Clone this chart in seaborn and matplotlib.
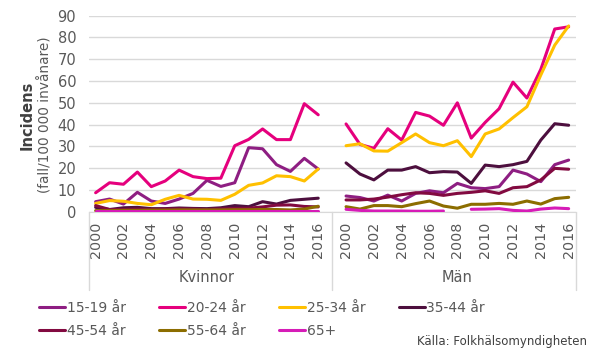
import numpy as np
import pandas as pd
import matplotlib
matplotlib.use("Agg")
import matplotlib.pyplot as plt
import matplotlib.transforms as mtransforms
from matplotlib.lines import Line2D
import seaborn as sns

# --- data ---
years = list(range(2000, 2017))
groups = ["Kvinnor", "Män"]
series = ["15-19 år", "20-24 år", "25-34 år", "35-44 år", "45-54 år", "55-64 år", "65+"]

kvinnor_15_19 = [4.6, 5.8, 3.5, 8.9, 4.9, 3.8, 5.8, 8.4, 14.4, 11.6, 13.3, 29.4, 28.9, 21.6, 18.5, 24.5, 19.6]
kvinnor_20_24 = [8.7, 13.3, 12.6, 18.2, 11.5, 14.1, 19.1, 16.1, 15.2, 15.4, 30.3, 33.2, 38.0, 33.1, 33.1, 49.6, 44.5]
kvinnor_25_34 = [3.8, 5.1, 4.8, 3.8, 3.2, 5.7, 7.5, 5.8, 5.7, 5.2, 8.0, 12.1, 13.2, 16.5, 16.1, 14.1, 19.6]
kvinnor_35_44 = [2.0, 1.0, 1.8, 2.0, 1.4, 1.4, 1.7, 1.5, 1.4, 1.8, 2.8, 2.3, 4.6, 3.5, 5.2, 5.7, 6.2]
kvinnor_45_54 = [2.8, 1.0, 1.0, 1.2, 1.0, 1.2, 1.3, 1.2, 1.0, 1.3, 1.5, 1.6, 2.2, 3.0, 3.1, 2.4, 2.2]
kvinnor_55_64 = [0.5, 0.5, 0.6, 0.6, 0.7, 0.7, 0.8, 0.8, 0.8, 0.8, 0.9, 0.9, 1.0, 1.0, 0.8, 1.2, 2.5]
kvinnor_65 = [0.2, 0.2, 0.2, 0.2, 0.2, 0.2, 0.2, 0.2, 0.2, 0.2, 0.2, 0.2, 0.2, 0.2, 0.2, 0.2, 0.2]

man_15_19 = [7.2, 6.5, 4.9, 7.6, 4.9, 8.4, 9.6, 8.7, 13.0, 11.0, 10.6, 11.5, 19.1, 17.3, 13.8, 21.6, 23.7]
man_20_24 = [40.3, 30.9, 29.1, 38.1, 32.9, 45.6, 43.9, 39.7, 50.0, 33.8, 41.0, 47.3, 59.5, 52.2, 65.4, 83.9, 84.9]
man_25_34 = [30.3, 31.2, 27.9, 27.8, 31.7, 35.7, 31.7, 30.3, 32.6, 25.3, 35.7, 38.0, 43.2, 48.2, 62.8, 76.5, 85.3]
man_35_44 = [22.4, 17.3, 14.6, 19.1, 19.1, 20.7, 17.9, 18.4, 18.2, 13.0, 21.4, 20.7, 21.6, 23.1, 32.9, 40.4, 39.7]
man_45_54 = [5.4, 5.4, 5.8, 6.7, 7.8, 8.7, 8.4, 7.5, 8.4, 8.9, 9.6, 8.4, 11.0, 11.5, 14.6, 19.9, 19.5]
man_55_64 = [2.3, 1.2, 2.8, 2.8, 2.3, 3.7, 4.9, 2.6, 1.6, 3.4, 3.4, 3.8, 3.4, 4.9, 3.5, 6.0, 6.6]
man_65 = [1.1, 0.6, 0.3, 0.3, 0.3, 0.2, 0.2, 0.3, np.nan, 1.1, 1.2, 1.4, 0.6, 0.3, 1.2, 1.7, 1.4]

colors = ["#8E1E82", "#E5007D", "#FFC000", "#4D0F3E", "#820A40", "#8C6D00", "#D61CB7"]

kvinnor = [kvinnor_15_19, kvinnor_20_24, kvinnor_25_34, kvinnor_35_44, kvinnor_45_54, kvinnor_55_64, kvinnor_65]
man = [man_15_19, man_20_24, man_25_34, man_35_44, man_45_54, man_55_64, man_65]

# long table; Män placed after a gap of one empty category
rows = []
for gi, (g, data) in enumerate(zip(groups, [kvinnor, man])):
    offset = gi * (len(years) + 1)
    for s, vals in zip(series, data):
        seg = 0
        for i, v in enumerate(vals):
            if np.isnan(v):
                seg += 1
                continue
            rows.append({"pos": offset + i, "value": v, "serie": s, "unit": f"{g}-{s}-{seg}"})
df = pd.DataFrame(rows)

sns.set_style("white")
plt.rcParams["font.family"] = ["DejaVu Sans"]
grey = "#595959"

fig = plt.figure(figsize=(5.9, 3.54), dpi=100)
ax = fig.add_axes([0.1503, 0.402, 0.8253, 0.5536])

sns.lineplot(data=df, x="pos", y="value", hue="serie", units="unit", estimator=None,
             palette=dict(zip(series, colors)), hue_order=series, linewidth=2.2,
             legend=False, ax=ax, zorder=3)

ax.set_xlim(-0.5, 34.5)
ax.set_ylim(0, 90)
ax.set_yticks(range(0, 91, 10))
ax.tick_params(axis="y", labelsize=10.5, colors=grey, length=0, pad=9)
ax.grid(axis="y", color="#D9D9D9", linewidth=1)
ax.set_axisbelow(True)
for sp in ["top", "right", "left"]:
    ax.spines[sp].set_visible(False)
ax.spines["bottom"].set_color("#D9D9D9")

xt = []
xl = []
for gi in range(2):
    offset = gi * (len(years) + 1)
    for i, y in enumerate(years):
        if y % 2 == 0:
            xt.append(offset + i)
            xl.append(str(y))
ax.set_xticks(xt)
ax.set_xticklabels(xl, rotation=90, fontsize=10.3, color=grey)
ax.tick_params(axis="x", length=0, pad=7)
ax.set_xlabel("")
ax.set_ylabel("")

trans = mtransforms.blended_transform_factory(ax.transData, ax.transAxes)
for xv in [-0.5, 17, 34.5]:
    ax.plot([xv, xv], [0, -0.4], transform=trans, color="#D9D9D9", lw=1, clip_on=False)
ax.text(8, -0.338, "Kvinnor", transform=trans, ha="center", va="center", fontsize=10.5, color=grey)
ax.text(26, -0.338, "Män", transform=trans, ha="center", va="center", fontsize=10.5, color=grey)

fig.text(0.0458, 0.675, "Incidens", rotation=90, ha="center", va="center",
         fontsize=10.5, fontweight="bold", color="#404040")
fig.text(0.0763, 0.675, "(fall/100 000 invånare)", rotation=90, ha="center", va="center",
         fontsize=9.8, color=grey)

# legend is filled column by column, so reorder to read row by row
order = [0, 4, 1, 5, 2, 6, 3]
handles = [Line2D([0], [0], color=colors[i], lw=2.2) for i in order]
labels = [series[i] for i in order]
fig.legend(handles, labels, ncol=4, loc="upper left", bbox_to_anchor=(0.066, 0.151),
           frameon=False, fontsize=10, handlelength=1.9, handletextpad=0.1,
           columnspacing=2.4, labelspacing=0.7, labelcolor=grey,
           borderpad=0, borderaxespad=0)

fig.text(0.995, 0.017, "Källa: Folkhälsomyndigheten", ha="right", va="bottom",
         fontsize=8.5, color="#404040")

fig.savefig("out.png", dpi=100)
